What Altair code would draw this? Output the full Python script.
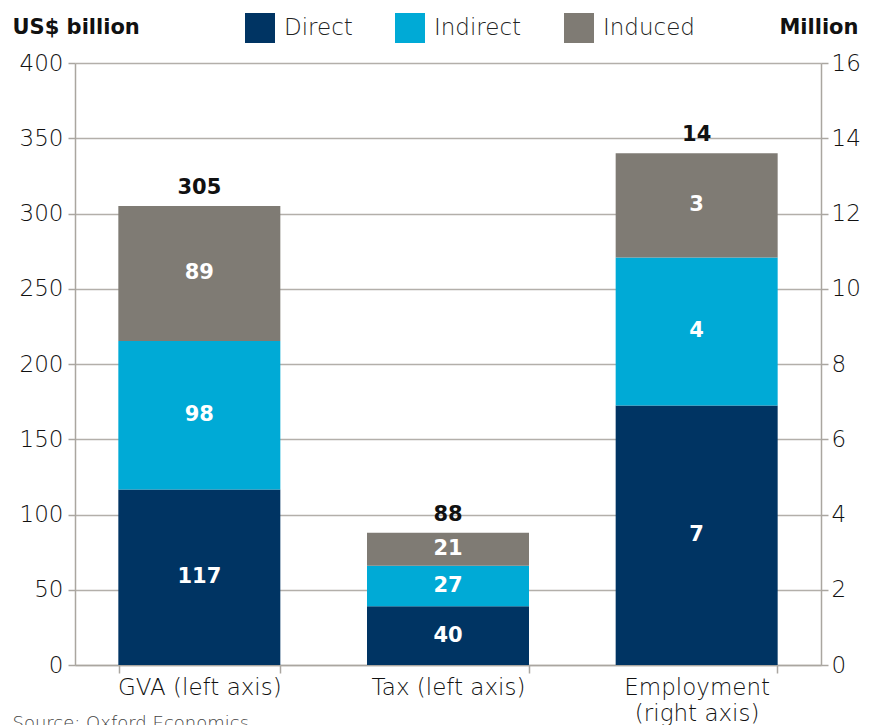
import altair as alt
import pandas as pd

categories = ["GVA (left axis)", "Tax (left axis)", "Employment|(right axis)"]
components = ["Direct", "Indirect", "Induced"]
colors = ["#003463", "#00aad6", "#7f7b74"]

gva_values = [116.6, 98.7, 89.7]
tax_values = [39.0, 27.0, 21.8]
emp_values = [6.9, 3.93, 2.77]

gva_labels = ["117", "98", "89"]
tax_labels = ["40", "27", "21"]
emp_labels = ["7", "4", "3"]
total_labels = ["305", "88", "14"]

FONT = "DejaVu Sans"
LIGHT = 200


def build(cat, values, labels, total_label):
    rows = []
    base = 0.0
    for i, (comp, v, lab) in enumerate(zip(components, values, labels)):
        rows.append({"cat": cat, "comp": comp, "order": i, "y0": base,
                     "y1": base + v, "mid": base + v / 2, "label": lab})
        base += v
    tot = {"cat": cat, "total": base, "tlabel": total_label}
    return rows, tot


seg_left, tot_left = [], []
for cat, vals, labs, tl in [(categories[0], gva_values, gva_labels, total_labels[0]),
                            (categories[1], tax_values, tax_labels, total_labels[1])]:
    r, t = build(cat, vals, labs, tl)
    seg_left += r
    tot_left.append(t)
r, t = build(categories[2], emp_values, emp_labels, total_labels[2])
seg_right = r
tot_right = [t]

df_seg_left = pd.DataFrame(seg_left)
df_tot_left = pd.DataFrame(tot_left)
df_seg_right = pd.DataFrame(seg_right)
df_tot_right = pd.DataFrame(tot_right)

x_axis = alt.Axis(
    title="Source: Oxford Economics", titleFont=FONT, titleFontSize=18, titleFontWeight=LIGHT,
    titleColor="#444444", titleAlign="left", titleBaseline="top", titleX=-63, titleY=49,
    titleAnchor="start",
    labelExpr="split(datum.label, '|')", labelFont=FONT, labelFontSize=23, labelFontWeight=LIGHT,
    labelColor="#111111", labelLineHeight=26, labelPadding=3, labelAngle=0,
    tickBand="extent", tickSize=8, tickColor="#aaa6a0", tickWidth=1.5,
    domainColor="#aaa6a0", domainWidth=1.5, grid=False,
)
x_enc = alt.X("cat:N", sort=categories,
              scale=alt.Scale(domain=categories, paddingInner=0.35, paddingOuter=0.175),
              axis=x_axis)

left_axis = alt.Axis(
    title="US$ billion", titleFont=FONT, titleFontSize=21, titleFontWeight="bold",
    titleColor="#111111", titleAngle=0, titleAlign="left", titleBaseline="middle",
    titleX=-63, titleY=-36,
    values=[0, 50, 100, 150, 200, 250, 300, 350, 400],
    labelFont=FONT, labelFontSize=23, labelFontWeight=LIGHT, labelColor="#111111",
    labelPadding=5, tickSize=7, tickColor="#aaa6a0", tickWidth=1.5,
    domainColor="#aaa6a0", domainWidth=1.5,
    grid=True, gridColor="#b3afaa", gridWidth=1.5,
)
right_axis = alt.Axis(
    title="Million", orient="right", titleFont=FONT, titleFontSize=21, titleFontWeight="bold",
    titleColor="#111111", titleAngle=0, titleAlign="right", titleBaseline="middle",
    titleX=37, titleY=-36,
    values=[0, 2, 4, 6, 8, 10, 12, 14, 16],
    labelFont=FONT, labelFontSize=23, labelFontWeight=LIGHT, labelColor="#111111",
    labelPadding=3, tickSize=7, tickColor="#aaa6a0", tickWidth=1.5,
    domainColor="#aaa6a0", domainWidth=1.5, grid=False,
)

color_enc = alt.Color(
    "comp:N", sort=components,
    scale=alt.Scale(domain=components, range=colors),
    legend=alt.Legend(
        title=None, orient="none", direction="horizontal", legendX=170, legendY=-50,
        symbolType="square", symbolSize=900, symbolStrokeWidth=0, symbolOpacity=1,
        labelFont=FONT, labelFontSize=23, labelFontWeight=LIGHT, labelColor="#222222",
        labelOffset=9, columnPadding=42, padding=0,
    ),
)


def side(df_seg, df_tot, scale, axis):
    y_bar = alt.Y("y1:Q", scale=scale, axis=axis)
    bars = alt.Chart(df_seg).mark_bar(size=162).encode(
        x=x_enc, y=y_bar, y2="y0:Q", color=color_enc,
        order=alt.Order("order:Q"),
    )
    seg_text = alt.Chart(df_seg).mark_text(
        font=FONT, fontSize=21, fontWeight="bold", color="white", baseline="middle",
    ).encode(x=x_enc, y=alt.Y("mid:Q", scale=scale, axis=axis), text="label:N")
    tot_text = alt.Chart(df_tot).mark_text(
        font=FONT, fontSize=21, fontWeight="bold", color="#111111", baseline="middle", dy=-18,
    ).encode(x=x_enc, y=alt.Y("total:Q", scale=scale, axis=axis), text="tlabel:N")
    return alt.layer(bars, seg_text, tot_text)


left = side(df_seg_left, df_tot_left, alt.Scale(domain=[0, 400], nice=False), left_axis)
right = side(df_seg_right, df_tot_right, alt.Scale(domain=[0, 16], nice=False), right_axis)

chart = alt.layer(left, right).resolve_scale(y="independent").properties(
    width=746, height=602,
    autosize=alt.AutoSizeParams(type="none"),
    padding={"left": 67, "top": 55, "right": 42, "bottom": 60},
).configure_view(stroke=None)

chart.save("out.html", embed_options={"renderer": "svg", "actions": False})
